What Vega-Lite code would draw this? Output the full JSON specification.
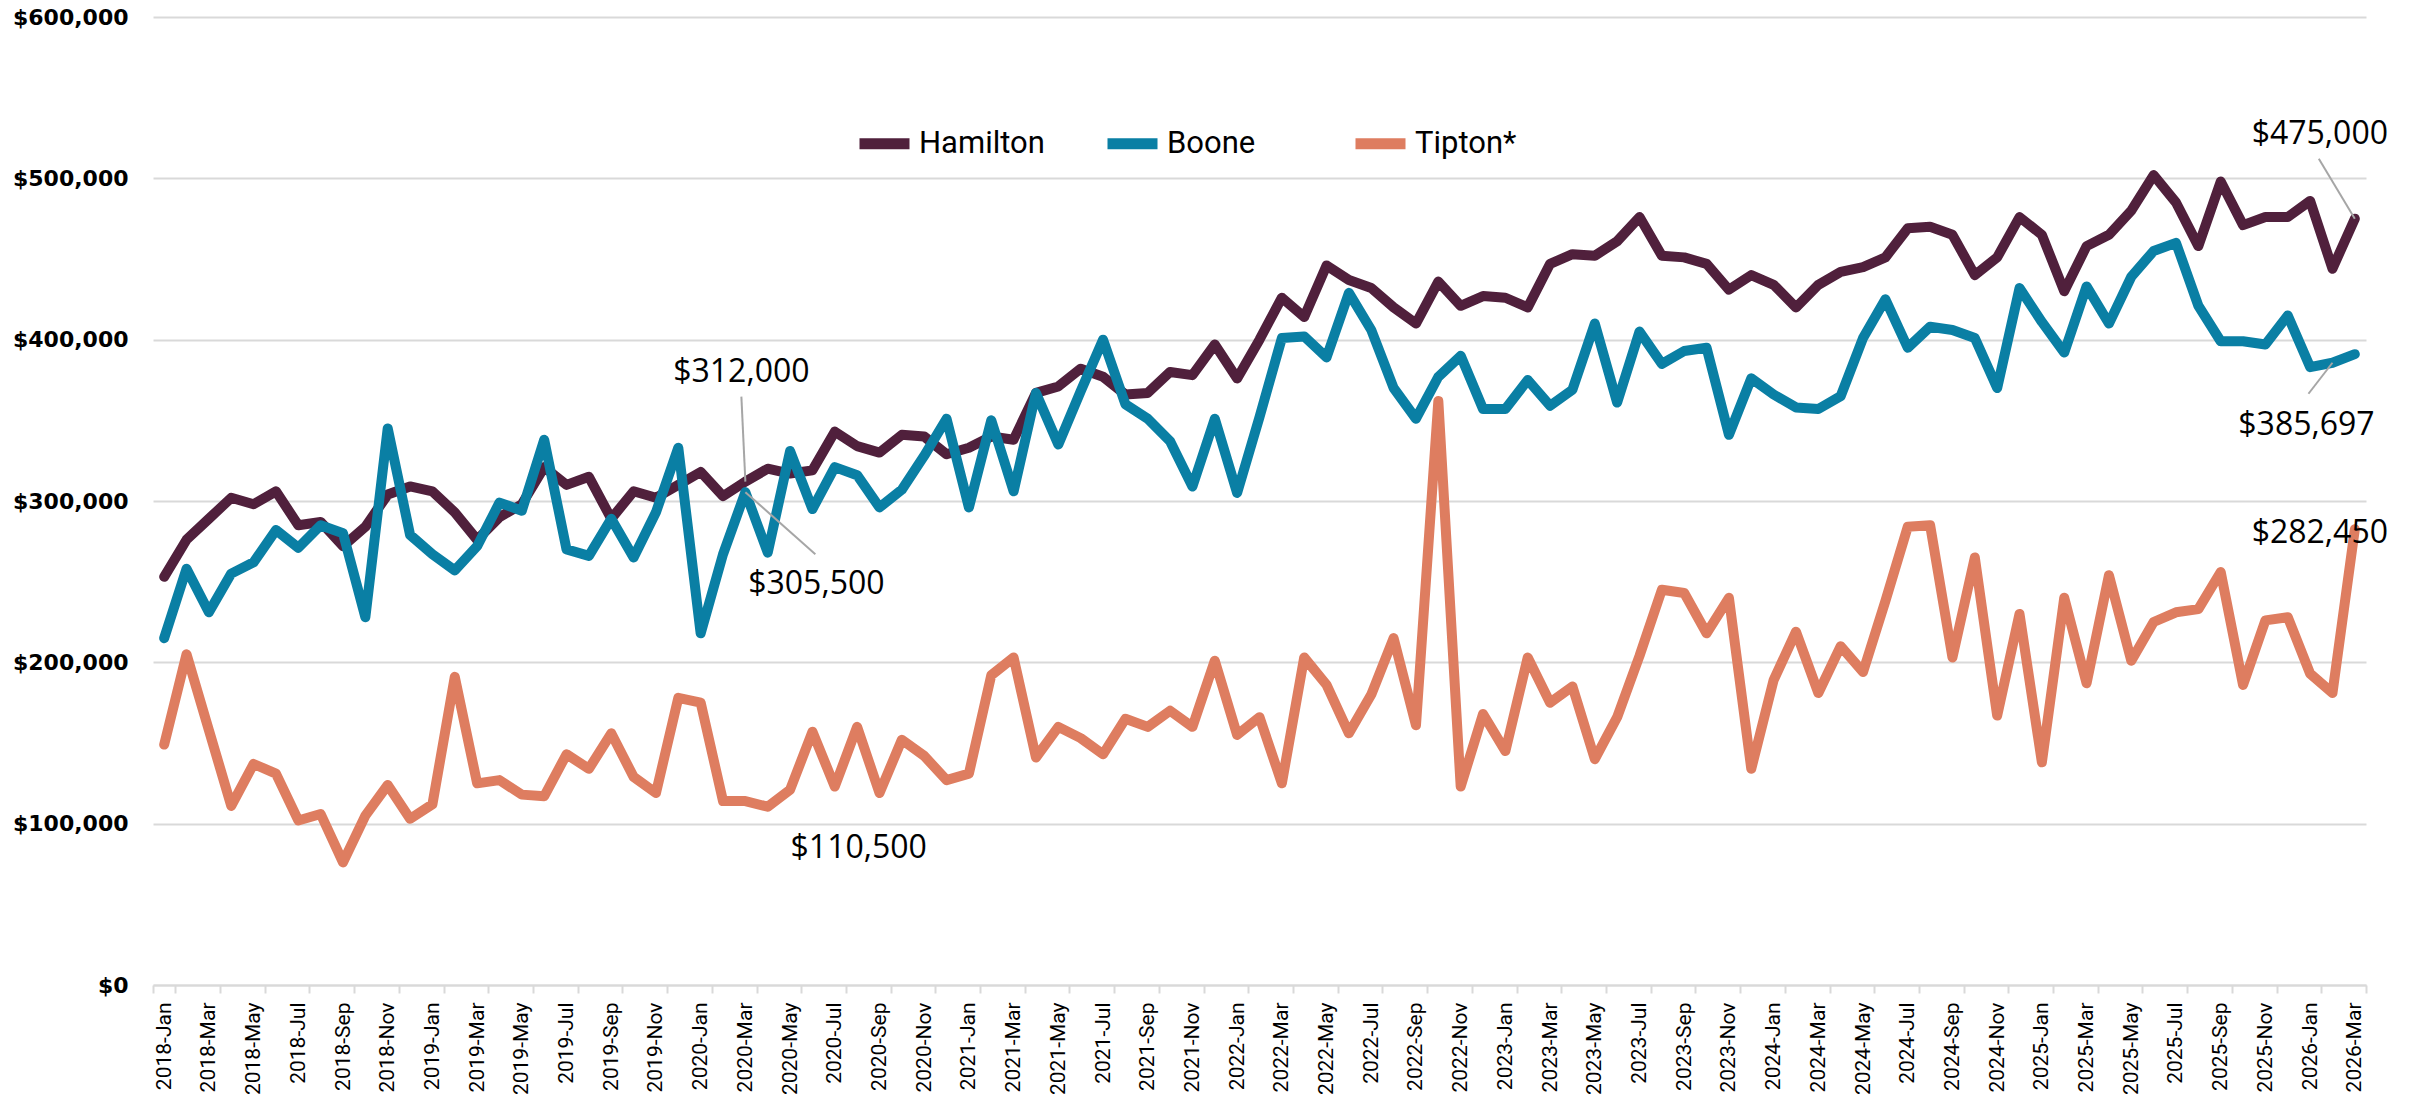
{
"$schema": "https://vega.github.io/schema/vega-lite/v6.json",
"width": 2213, "height": 968,
"autosize": {"type": "none"},
"padding": {"left": 153, "top": 17, "right": 52, "bottom": 115},
"background": "white",
"config": {"view": {"stroke": null}, "font": "Open Sans"},
"data": {"values": [
{"month":"2018-Jan","county":"Hamilton","price":253000},{"month":"2018-Feb","county":"Hamilton","price":276000},{"month":"2018-Mar","county":"Hamilton","price":289000},{"month":"2018-Apr","county":"Hamilton","price":302000},{"month":"2018-May","county":"Hamilton","price":298000},{"month":"2018-Jun","county":"Hamilton","price":306000},{"month":"2018-Jul","county":"Hamilton","price":285000},{"month":"2018-Aug","county":"Hamilton","price":287000},{"month":"2018-Sep","county":"Hamilton","price":272000},{"month":"2018-Oct","county":"Hamilton","price":284000},{"month":"2018-Nov","county":"Hamilton","price":304000},{"month":"2018-Dec","county":"Hamilton","price":309000},
{"month":"2019-Jan","county":"Hamilton","price":306000},{"month":"2019-Feb","county":"Hamilton","price":293000},{"month":"2019-Mar","county":"Hamilton","price":276000},{"month":"2019-Apr","county":"Hamilton","price":290000},{"month":"2019-May","county":"Hamilton","price":298000},{"month":"2019-Jun","county":"Hamilton","price":321000},{"month":"2019-Jul","county":"Hamilton","price":310000},{"month":"2019-Aug","county":"Hamilton","price":315000},{"month":"2019-Sep","county":"Hamilton","price":289000},{"month":"2019-Oct","county":"Hamilton","price":306000},{"month":"2019-Nov","county":"Hamilton","price":302000},{"month":"2019-Dec","county":"Hamilton","price":310000},
{"month":"2020-Jan","county":"Hamilton","price":318000},{"month":"2020-Feb","county":"Hamilton","price":303000},{"month":"2020-Mar","county":"Hamilton","price":312000},{"month":"2020-Apr","county":"Hamilton","price":320000},{"month":"2020-May","county":"Hamilton","price":317000},{"month":"2020-Jun","county":"Hamilton","price":319000},{"month":"2020-Jul","county":"Hamilton","price":343000},{"month":"2020-Aug","county":"Hamilton","price":334000},{"month":"2020-Sep","county":"Hamilton","price":330000},{"month":"2020-Oct","county":"Hamilton","price":341000},{"month":"2020-Nov","county":"Hamilton","price":340000},{"month":"2020-Dec","county":"Hamilton","price":329000},
{"month":"2021-Jan","county":"Hamilton","price":333000},{"month":"2021-Feb","county":"Hamilton","price":340000},{"month":"2021-Mar","county":"Hamilton","price":338000},{"month":"2021-Apr","county":"Hamilton","price":367000},{"month":"2021-May","county":"Hamilton","price":371000},{"month":"2021-Jun","county":"Hamilton","price":382000},{"month":"2021-Jul","county":"Hamilton","price":377000},{"month":"2021-Aug","county":"Hamilton","price":366000},{"month":"2021-Sep","county":"Hamilton","price":367000},{"month":"2021-Oct","county":"Hamilton","price":380000},{"month":"2021-Nov","county":"Hamilton","price":378000},{"month":"2021-Dec","county":"Hamilton","price":397000},
{"month":"2022-Jan","county":"Hamilton","price":376000},{"month":"2022-Feb","county":"Hamilton","price":400000},{"month":"2022-Mar","county":"Hamilton","price":426000},{"month":"2022-Apr","county":"Hamilton","price":414000},{"month":"2022-May","county":"Hamilton","price":446000},{"month":"2022-Jun","county":"Hamilton","price":437000},{"month":"2022-Jul","county":"Hamilton","price":432000},{"month":"2022-Aug","county":"Hamilton","price":420000},{"month":"2022-Sep","county":"Hamilton","price":410000},{"month":"2022-Oct","county":"Hamilton","price":436000},{"month":"2022-Nov","county":"Hamilton","price":421000},{"month":"2022-Dec","county":"Hamilton","price":427000},
{"month":"2023-Jan","county":"Hamilton","price":426000},{"month":"2023-Feb","county":"Hamilton","price":420000},{"month":"2023-Mar","county":"Hamilton","price":447000},{"month":"2023-Apr","county":"Hamilton","price":453000},{"month":"2023-May","county":"Hamilton","price":452000},{"month":"2023-Jun","county":"Hamilton","price":461000},{"month":"2023-Jul","county":"Hamilton","price":476000},{"month":"2023-Aug","county":"Hamilton","price":452000},{"month":"2023-Sep","county":"Hamilton","price":451000},{"month":"2023-Oct","county":"Hamilton","price":447000},{"month":"2023-Nov","county":"Hamilton","price":431000},{"month":"2023-Dec","county":"Hamilton","price":440000},
{"month":"2024-Jan","county":"Hamilton","price":434000},{"month":"2024-Feb","county":"Hamilton","price":420000},{"month":"2024-Mar","county":"Hamilton","price":434000},{"month":"2024-Apr","county":"Hamilton","price":442000},{"month":"2024-May","county":"Hamilton","price":445000},{"month":"2024-Jun","county":"Hamilton","price":451000},{"month":"2024-Jul","county":"Hamilton","price":469000},{"month":"2024-Aug","county":"Hamilton","price":470000},{"month":"2024-Sep","county":"Hamilton","price":465000},{"month":"2024-Oct","county":"Hamilton","price":440000},{"month":"2024-Nov","county":"Hamilton","price":451000},{"month":"2024-Dec","county":"Hamilton","price":476000},
{"month":"2025-Jan","county":"Hamilton","price":465000},{"month":"2025-Feb","county":"Hamilton","price":430000},{"month":"2025-Mar","county":"Hamilton","price":458000},{"month":"2025-Apr","county":"Hamilton","price":465000},{"month":"2025-May","county":"Hamilton","price":480000},{"month":"2025-Jun","county":"Hamilton","price":502000},{"month":"2025-Jul","county":"Hamilton","price":485000},{"month":"2025-Aug","county":"Hamilton","price":458000},{"month":"2025-Sep","county":"Hamilton","price":498000},{"month":"2025-Oct","county":"Hamilton","price":471000},{"month":"2025-Nov","county":"Hamilton","price":476000},{"month":"2025-Dec","county":"Hamilton","price":476000},
{"month":"2026-Jan","county":"Hamilton","price":486000},{"month":"2026-Feb","county":"Hamilton","price":444000},{"month":"2026-Mar","county":"Hamilton","price":475000},
{"month":"2018-Jan","county":"Boone","price":215000},{"month":"2018-Feb","county":"Boone","price":258000},{"month":"2018-Mar","county":"Boone","price":231000},{"month":"2018-Apr","county":"Boone","price":255000},{"month":"2018-May","county":"Boone","price":262000},{"month":"2018-Jun","county":"Boone","price":282000},{"month":"2018-Jul","county":"Boone","price":271000},{"month":"2018-Aug","county":"Boone","price":285000},{"month":"2018-Sep","county":"Boone","price":280000},{"month":"2018-Oct","county":"Boone","price":228000},{"month":"2018-Nov","county":"Boone","price":345000},{"month":"2018-Dec","county":"Boone","price":279000},
{"month":"2019-Jan","county":"Boone","price":267000},{"month":"2019-Feb","county":"Boone","price":257000},{"month":"2019-Mar","county":"Boone","price":272000},{"month":"2019-Apr","county":"Boone","price":299000},{"month":"2019-May","county":"Boone","price":294000},{"month":"2019-Jun","county":"Boone","price":338000},{"month":"2019-Jul","county":"Boone","price":270000},{"month":"2019-Aug","county":"Boone","price":266000},{"month":"2019-Sep","county":"Boone","price":289000},{"month":"2019-Oct","county":"Boone","price":265000},{"month":"2019-Nov","county":"Boone","price":293000},{"month":"2019-Dec","county":"Boone","price":333000},
{"month":"2020-Jan","county":"Boone","price":218000},{"month":"2020-Feb","county":"Boone","price":267000},{"month":"2020-Mar","county":"Boone","price":305500},{"month":"2020-Apr","county":"Boone","price":268000},{"month":"2020-May","county":"Boone","price":331000},{"month":"2020-Jun","county":"Boone","price":295000},{"month":"2020-Jul","county":"Boone","price":321000},{"month":"2020-Aug","county":"Boone","price":316000},{"month":"2020-Sep","county":"Boone","price":296000},{"month":"2020-Oct","county":"Boone","price":307000},{"month":"2020-Nov","county":"Boone","price":328000},{"month":"2020-Dec","county":"Boone","price":351000},
{"month":"2021-Jan","county":"Boone","price":296000},{"month":"2021-Feb","county":"Boone","price":350000},{"month":"2021-Mar","county":"Boone","price":306000},{"month":"2021-Apr","county":"Boone","price":367000},{"month":"2021-May","county":"Boone","price":335000},{"month":"2021-Jun","county":"Boone","price":368000},{"month":"2021-Jul","county":"Boone","price":400000},{"month":"2021-Aug","county":"Boone","price":360000},{"month":"2021-Sep","county":"Boone","price":351000},{"month":"2021-Oct","county":"Boone","price":337000},{"month":"2021-Nov","county":"Boone","price":309000},{"month":"2021-Dec","county":"Boone","price":351000},
{"month":"2022-Jan","county":"Boone","price":305000},{"month":"2022-Feb","county":"Boone","price":352000},{"month":"2022-Mar","county":"Boone","price":401000},{"month":"2022-Apr","county":"Boone","price":402000},{"month":"2022-May","county":"Boone","price":389000},{"month":"2022-Jun","county":"Boone","price":429000},{"month":"2022-Jul","county":"Boone","price":406000},{"month":"2022-Aug","county":"Boone","price":370000},{"month":"2022-Sep","county":"Boone","price":351000},{"month":"2022-Oct","county":"Boone","price":377000},{"month":"2022-Nov","county":"Boone","price":390000},{"month":"2022-Dec","county":"Boone","price":357000},
{"month":"2023-Jan","county":"Boone","price":357000},{"month":"2023-Feb","county":"Boone","price":375000},{"month":"2023-Mar","county":"Boone","price":359000},{"month":"2023-Apr","county":"Boone","price":369000},{"month":"2023-May","county":"Boone","price":410000},{"month":"2023-Jun","county":"Boone","price":361000},{"month":"2023-Jul","county":"Boone","price":405000},{"month":"2023-Aug","county":"Boone","price":385000},{"month":"2023-Sep","county":"Boone","price":393000},{"month":"2023-Oct","county":"Boone","price":395000},{"month":"2023-Nov","county":"Boone","price":341000},{"month":"2023-Dec","county":"Boone","price":376000},
{"month":"2024-Jan","county":"Boone","price":366000},{"month":"2024-Feb","county":"Boone","price":358000},{"month":"2024-Mar","county":"Boone","price":357000},{"month":"2024-Apr","county":"Boone","price":365000},{"month":"2024-May","county":"Boone","price":401000},{"month":"2024-Jun","county":"Boone","price":425000},{"month":"2024-Jul","county":"Boone","price":395000},{"month":"2024-Aug","county":"Boone","price":408000},{"month":"2024-Sep","county":"Boone","price":406000},{"month":"2024-Oct","county":"Boone","price":401000},{"month":"2024-Nov","county":"Boone","price":370000},{"month":"2024-Dec","county":"Boone","price":432000},
{"month":"2025-Jan","county":"Boone","price":411000},{"month":"2025-Feb","county":"Boone","price":392000},{"month":"2025-Mar","county":"Boone","price":433000},{"month":"2025-Apr","county":"Boone","price":410000},{"month":"2025-May","county":"Boone","price":439000},{"month":"2025-Jun","county":"Boone","price":455000},{"month":"2025-Jul","county":"Boone","price":460000},{"month":"2025-Aug","county":"Boone","price":421000},{"month":"2025-Sep","county":"Boone","price":399000},{"month":"2025-Oct","county":"Boone","price":399000},{"month":"2025-Nov","county":"Boone","price":397000},{"month":"2025-Dec","county":"Boone","price":415000},
{"month":"2026-Jan","county":"Boone","price":383000},{"month":"2026-Feb","county":"Boone","price":385697},{"month":"2026-Mar","county":"Boone","price":391000},
{"month":"2018-Jan","county":"Tipton*","price":149000},{"month":"2018-Feb","county":"Tipton*","price":205000},{"month":"2018-Mar","county":"Tipton*","price":158000},{"month":"2018-Apr","county":"Tipton*","price":111000},{"month":"2018-May","county":"Tipton*","price":137000},{"month":"2018-Jun","county":"Tipton*","price":131000},{"month":"2018-Jul","county":"Tipton*","price":102000},{"month":"2018-Aug","county":"Tipton*","price":106000},{"month":"2018-Sep","county":"Tipton*","price":76000},{"month":"2018-Oct","county":"Tipton*","price":105000},{"month":"2018-Nov","county":"Tipton*","price":124000},{"month":"2018-Dec","county":"Tipton*","price":103000},
{"month":"2019-Jan","county":"Tipton*","price":112000},{"month":"2019-Feb","county":"Tipton*","price":191000},{"month":"2019-Mar","county":"Tipton*","price":125000},{"month":"2019-Apr","county":"Tipton*","price":127000},{"month":"2019-May","county":"Tipton*","price":118000},{"month":"2019-Jun","county":"Tipton*","price":117000},{"month":"2019-Jul","county":"Tipton*","price":143000},{"month":"2019-Aug","county":"Tipton*","price":134000},{"month":"2019-Sep","county":"Tipton*","price":156000},{"month":"2019-Oct","county":"Tipton*","price":129000},{"month":"2019-Nov","county":"Tipton*","price":119000},{"month":"2019-Dec","county":"Tipton*","price":178000},
{"month":"2020-Jan","county":"Tipton*","price":175000},{"month":"2020-Feb","county":"Tipton*","price":114000},{"month":"2020-Mar","county":"Tipton*","price":114000},{"month":"2020-Apr","county":"Tipton*","price":110500},{"month":"2020-May","county":"Tipton*","price":121000},{"month":"2020-Jun","county":"Tipton*","price":157000},{"month":"2020-Jul","county":"Tipton*","price":123000},{"month":"2020-Aug","county":"Tipton*","price":160000},{"month":"2020-Sep","county":"Tipton*","price":119000},{"month":"2020-Oct","county":"Tipton*","price":152000},{"month":"2020-Nov","county":"Tipton*","price":142000},{"month":"2020-Dec","county":"Tipton*","price":127000},
{"month":"2021-Jan","county":"Tipton*","price":131000},{"month":"2021-Feb","county":"Tipton*","price":192000},{"month":"2021-Mar","county":"Tipton*","price":203000},{"month":"2021-Apr","county":"Tipton*","price":141000},{"month":"2021-May","county":"Tipton*","price":160000},{"month":"2021-Jun","county":"Tipton*","price":153000},{"month":"2021-Jul","county":"Tipton*","price":143000},{"month":"2021-Aug","county":"Tipton*","price":165000},{"month":"2021-Sep","county":"Tipton*","price":160000},{"month":"2021-Oct","county":"Tipton*","price":170000},{"month":"2021-Nov","county":"Tipton*","price":160000},{"month":"2021-Dec","county":"Tipton*","price":201000},
{"month":"2022-Jan","county":"Tipton*","price":155000},{"month":"2022-Feb","county":"Tipton*","price":166000},{"month":"2022-Mar","county":"Tipton*","price":125000},{"month":"2022-Apr","county":"Tipton*","price":203000},{"month":"2022-May","county":"Tipton*","price":186000},{"month":"2022-Jun","county":"Tipton*","price":156000},{"month":"2022-Jul","county":"Tipton*","price":180000},{"month":"2022-Aug","county":"Tipton*","price":215000},{"month":"2022-Sep","county":"Tipton*","price":161000},{"month":"2022-Oct","county":"Tipton*","price":362000},{"month":"2022-Nov","county":"Tipton*","price":123000},{"month":"2022-Dec","county":"Tipton*","price":168000},
{"month":"2023-Jan","county":"Tipton*","price":145000},{"month":"2023-Feb","county":"Tipton*","price":203000},{"month":"2023-Mar","county":"Tipton*","price":175000},{"month":"2023-Apr","county":"Tipton*","price":185000},{"month":"2023-May","county":"Tipton*","price":140000},{"month":"2023-Jun","county":"Tipton*","price":166000},{"month":"2023-Jul","county":"Tipton*","price":204000},{"month":"2023-Aug","county":"Tipton*","price":245000},{"month":"2023-Sep","county":"Tipton*","price":243000},{"month":"2023-Oct","county":"Tipton*","price":218000},{"month":"2023-Nov","county":"Tipton*","price":240000},{"month":"2023-Dec","county":"Tipton*","price":134000},
{"month":"2024-Jan","county":"Tipton*","price":189000},{"month":"2024-Feb","county":"Tipton*","price":219000},{"month":"2024-Mar","county":"Tipton*","price":181000},{"month":"2024-Apr","county":"Tipton*","price":210000},{"month":"2024-May","county":"Tipton*","price":194000},{"month":"2024-Jun","county":"Tipton*","price":238000},{"month":"2024-Jul","county":"Tipton*","price":284000},{"month":"2024-Aug","county":"Tipton*","price":285000},{"month":"2024-Sep","county":"Tipton*","price":203000},{"month":"2024-Oct","county":"Tipton*","price":265000},{"month":"2024-Nov","county":"Tipton*","price":167000},{"month":"2024-Dec","county":"Tipton*","price":230000},
{"month":"2025-Jan","county":"Tipton*","price":138000},{"month":"2025-Feb","county":"Tipton*","price":240000},{"month":"2025-Mar","county":"Tipton*","price":187000},{"month":"2025-Apr","county":"Tipton*","price":254000},{"month":"2025-May","county":"Tipton*","price":201000},{"month":"2025-Jun","county":"Tipton*","price":225000},{"month":"2025-Jul","county":"Tipton*","price":231000},{"month":"2025-Aug","county":"Tipton*","price":233000},{"month":"2025-Sep","county":"Tipton*","price":256000},{"month":"2025-Oct","county":"Tipton*","price":186000},{"month":"2025-Nov","county":"Tipton*","price":226000},{"month":"2025-Dec","county":"Tipton*","price":228000},
{"month":"2026-Jan","county":"Tipton*","price":193000},{"month":"2026-Feb","county":"Tipton*","price":181000},{"month":"2026-Mar","county":"Tipton*","price":282450}
]},
"encoding": {
  "x": {"field": "month", "type": "ordinal", "sort": null, "bandPosition": 0.5,
    "scale": {"type": "band", "paddingInner": 0, "paddingOuter": 0},
    "axis": {"title": null, "grid": false, "labelOverlap": false,
      "values": ["2018-Jan","2018-Mar","2018-May","2018-Jul","2018-Sep","2018-Nov","2019-Jan","2019-Mar","2019-May","2019-Jul","2019-Sep","2019-Nov","2020-Jan","2020-Mar","2020-May","2020-Jul","2020-Sep","2020-Nov","2021-Jan","2021-Mar","2021-May","2021-Jul","2021-Sep","2021-Nov","2022-Jan","2022-Mar","2022-May","2022-Jul","2022-Sep","2022-Nov","2023-Jan","2023-Mar","2023-May","2023-Jul","2023-Sep","2023-Nov","2024-Jan","2024-Mar","2024-May","2024-Jul","2024-Sep","2024-Nov","2025-Jan","2025-Mar","2025-May","2025-Jul","2025-Sep","2025-Nov","2026-Jan","2026-Mar"],
      "labelAngle": -90, "labelAlign": "right", "labelBaseline": "middle",
      "labelFont": "Roboto", "labelFontSize": 21, "labelColor": "#000000", "labelPadding": 9,
      "tickBand": "extent", "tickColor": "#D9D9D9", "tickSize": 8, "tickWidth": 2,
      "domainColor": "#D9D9D9", "domainWidth": 2}},
  "y": {"field": "price", "type": "quantitative",
    "scale": {"domain": [0, 600000], "nice": false, "zero": true},
    "axis": {"title": null, "values": [0,100000,200000,300000,400000,500000,600000], "format": "$,.0f",
      "labelFont": "DejaVu Sans", "labelFontWeight": "bold", "labelFontSize": 22, "labelColor": "#000000",
      "ticks": false, "domain": false, "gridColor": "#D9D9D9", "gridWidth": 2, "labelPadding": 25}}
},
"layer": [
  {"mark": {"type": "line", "strokeWidth": 10, "strokeCap": "round", "strokeJoin": "round"},
   "encoding": {"color": {"field": "county", "type": "nominal",
     "scale": {"domain": ["Hamilton","Boone","Tipton*"], "range": ["#50203C","#0A7FA4","#DE7D60"]},
     "legend": {"title": null, "orient": "none", "legendX": 701, "legendY": 96, "direction": "horizontal",
       "symbolType": "stroke", "symbolSize": 2500, "symbolStrokeWidth": 11,
       "labelFont": "Roboto", "labelFontSize": 31, "labelColor": "#000000", "labelOffset": 4,
       "columnPadding": 40, "gridAlign": "all", "padding": 0}}}},
  {"transform": [{"filter": "datum.county == 'Hamilton' && datum.month == '2020-Mar'"}],
   "mark": {"type": "rule", "color": "#A6A6A6", "strokeWidth": 2, "x2Offset": -4, "y2Offset": -85},
   "encoding": {"x2": {"field": "month", "bandPosition": 0.5}, "y2": {"field": "price"}}},
  {"transform": [{"filter": "datum.county == 'Boone' && datum.month == '2020-Mar'"}],
   "mark": {"type": "rule", "color": "#A6A6A6", "strokeWidth": 2, "x2Offset": 70, "y2Offset": 62},
   "encoding": {"x2": {"field": "month", "bandPosition": 0.5}, "y2": {"field": "price"}}},
  {"transform": [{"filter": "datum.county == 'Hamilton' && datum.month == '2026-Mar'"}],
   "mark": {"type": "rule", "color": "#A6A6A6", "strokeWidth": 2, "x2Offset": -36, "y2Offset": -60},
   "encoding": {"x2": {"field": "month", "bandPosition": 0.5}, "y2": {"field": "price"}}},
  {"transform": [{"filter": "datum.county == 'Boone' && datum.month == '2026-Feb'"}],
   "mark": {"type": "rule", "color": "#A6A6A6", "strokeWidth": 2, "x2Offset": -24, "y2Offset": 31},
   "encoding": {"x2": {"field": "month", "bandPosition": 0.5}, "y2": {"field": "price"}}},
  {"transform": [{"filter": "datum.county == 'Hamilton' && datum.month == '2020-Mar'"}],
   "mark": {"type": "text", "font": "Open Sans", "fontSize": 32, "color": "#000000", "align": "center", "baseline": "middle", "dx": -4, "dy": -110},
   "encoding": {"text": {"field": "price", "format": "$,.0f"}}},
  {"transform": [{"filter": "datum.county == 'Boone' && datum.month == '2020-Mar'"}],
   "mark": {"type": "text", "font": "Open Sans", "fontSize": 32, "color": "#000000", "align": "center", "baseline": "middle", "dx": 71, "dy": 92},
   "encoding": {"text": {"field": "price", "format": "$,.0f"}}},
  {"transform": [{"filter": "datum.county == 'Tipton*' && datum.month == '2020-Apr'"}],
   "mark": {"type": "text", "font": "Open Sans", "fontSize": 32, "color": "#000000", "align": "center", "baseline": "middle", "dx": 91, "dy": 41},
   "encoding": {"text": {"field": "price", "format": "$,.0f"}}},
  {"transform": [{"filter": "datum.county == 'Hamilton' && datum.month == '2026-Mar'"}],
   "mark": {"type": "text", "font": "Open Sans", "fontSize": 32, "color": "#000000", "align": "center", "baseline": "middle", "dx": -35, "dy": -85},
   "encoding": {"text": {"field": "price", "format": "$,.0f"}}},
  {"transform": [{"filter": "datum.county == 'Boone' && datum.month == '2026-Feb'"}],
   "mark": {"type": "text", "font": "Open Sans", "fontSize": 32, "color": "#000000", "align": "center", "baseline": "middle", "dx": -26, "dy": 62},
   "encoding": {"text": {"field": "price", "format": "$,.0f"}}},
  {"transform": [{"filter": "datum.county == 'Tipton*' && datum.month == '2026-Mar'"}],
   "mark": {"type": "text", "font": "Open Sans", "fontSize": 32, "color": "#000000", "align": "center", "baseline": "middle", "dx": -35, "dy": 4},
   "encoding": {"text": {"field": "price", "format": "$,.0f"}}}
]
}
